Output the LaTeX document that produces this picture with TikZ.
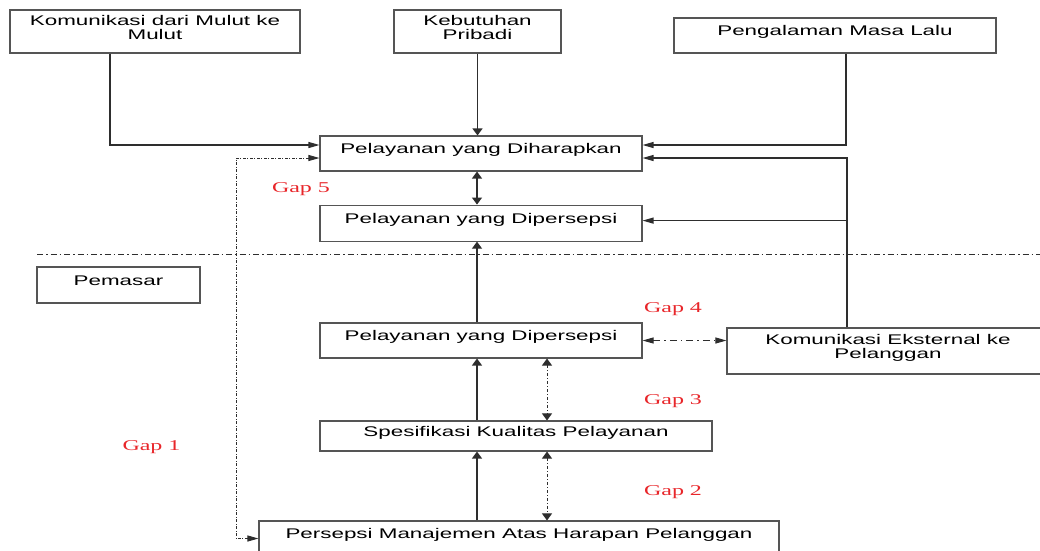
\documentclass[tikz,border=0pt]{standalone}
\usepackage{fontspec}
\setmainfont{Liberation Sans}
\newfontfamily\boxfont{Liberation Sans}[FakeStretch=1.6]
\newfontfamily\gapfont{Liberation Serif}[FakeStretch=1.6]
\usepackage{tikz}
\usetikzlibrary{arrows.meta,positioning,calc}
\definecolor{linegray}{HTML}{2E2E2E}
\definecolor{edgegray}{HTML}{555555}
\definecolor{gapred}{HTML}{E8262A}
\tikzset{
  >=Stealth,
  every picture/.append style={line width=1pt},
}
\tikzset{
  flow/.style={draw=linegray, line width=1.2pt},
  vflow/.style={flow, -{Triangle[length=7pt,width=10pt]}},
  hflow/.style={flow, -{Triangle[length=11pt,width=6pt]}}
}

\begin{document}
\begin{tikzpicture}[x=1pt, y=-1pt,
  block/.style={rectangle, draw=edgegray, line width=1.1pt, inner sep=0pt, align=center,
                font=\boxfont\fontsize{14}{13.6}\selectfont,
                text height=10pt, text depth=10pt, minimum height=35pt},
  twoline/.style={text height=25.6pt, text depth=10pt, minimum height=43pt},
  gaplabel/.style={font=\gapfont\fontsize{15}{15}\selectfont,
                   text=gapred, anchor=base, inner sep=0pt},
  vgap/.style={flow, line width=1pt, dash pattern=on 3pt off 2pt on 1pt off 2pt,
               {Triangle[length=7pt,width=10pt]}-{Triangle[length=7pt,width=10pt]}},
  hgap/.style={flow, line width=1pt, dash pattern=on 7pt off 4pt on 1.5pt off 4pt,
               {Triangle[length=11pt,width=6pt]}-{Triangle[length=11pt,width=6pt]}},
  loopgap/.style={flow, line width=1pt, dash pattern=on 3pt off 1.5pt on 1pt off 1.5pt,
                  {Triangle[length=11pt,width=6pt]}-{Triangle[length=11pt,width=6pt]}},
  sepline/.style={draw=linegray, line width=1pt, dash pattern=on 6pt off 3pt on 1.5pt off 3pt}
]
\useasboundingbox (0,0) rectangle (1040,550);

% Customer side
\node[block, twoline, minimum width=290pt] (mulut) at (155,31.5) {Komunikasi dari Mulut ke\\Mulut};
\node[block, twoline, minimum width=167pt] (pribadi) at (477.5,31.5) {Kebutuhan\\Pribadi};
\node[block, minimum width=322pt] (masalalu) at (835,35.5) {Pengalaman Masa Lalu};
\node[block, minimum width=322pt] (harapan) at (481,153.5) {Pelayanan yang Diharapkan};
\node[block, minimum width=322pt, minimum height=36pt, below=33pt of harapan] (persepsiA) {Pelayanan yang Dipersepsi};

% Separator
\draw[sepline] (37,254) -- (1040,254);

% Marketer side
\node[block, minimum width=163pt, minimum height=36pt] (pemasar) at (118.5,285) {Pemasar};
\node[block, minimum width=322pt] (persepsiB) at (481,340.5) {Pelayanan yang Dipersepsi};
\node[block, twoline, text height=24pt, minimum width=322pt, minimum height=46pt] (eksternal) at (888,351) {Komunikasi Eksternal ke\\Pelanggan};
\node[block, minimum width=392pt, minimum height=30pt] (spesifikasi) at (516,436) {Spesifikasi Kualitas Pelayanan};
\node[block, minimum width=520pt] (manajemen) at (519,538.5) {Persepsi Manajemen Atas Harapan Pelanggan};

\coordinate (col) at (477,0);
\coordinate (gcol) at (547,0);
\coordinate (lcol) at (236,0);

% Flow arrows
\draw[hflow] ([xshift=-45pt]mulut.south) |- ([yshift=8.5pt]harapan.west);
\draw[vflow] (pribadi.south) -- (pribadi.south |- harapan.north);
\draw[hflow] ([xshift=11pt]masalalu.south) |- ([yshift=8.5pt]harapan.east);
\draw[hflow] ([xshift=-41pt]eksternal.north) |- ([yshift=-4.5pt]harapan.east);
\draw[hflow] ([xshift=-41pt,yshift=2.5pt]eksternal.north |- persepsiA.east) -- ([yshift=2.5pt]persepsiA.east);
\draw[vflow, {Triangle[length=7pt,width=10pt]}-{Triangle[length=7pt,width=10pt]}] (harapan.south -| col) -- (persepsiA.north -| col);
\draw[vflow] (persepsiB.north -| col) -- (persepsiA.south -| col);
\draw[vflow] (spesifikasi.north -| col) -- (persepsiB.south -| col);
\draw[vflow] (manajemen.north -| col) -- (spesifikasi.south -| col);

% Gaps
\draw[vgap] (persepsiB.south -| gcol) -- (spesifikasi.north -| gcol);
\draw[vgap] (spesifikasi.south -| gcol) -- (manajemen.north -| gcol);
\draw[hgap] (persepsiB.east) -- (persepsiB.east -| eksternal.west);
\draw[loopgap] ([yshift=-4.5pt]harapan.west) -| (lcol |- manajemen.west) -- (manajemen.west);

\node[gaplabel] (gap5) at (301,192) {Gap 5};
\node[gaplabel] (gap4) at (673,312) {Gap 4};
\node[gaplabel] (gap3) at (673,404) {Gap 3};
\node[gaplabel] (gap2) at (673,495) {Gap 2};
\node[gaplabel] (gap1) at (151.5,450) {Gap 1};

\end{tikzpicture}
\end{document}
